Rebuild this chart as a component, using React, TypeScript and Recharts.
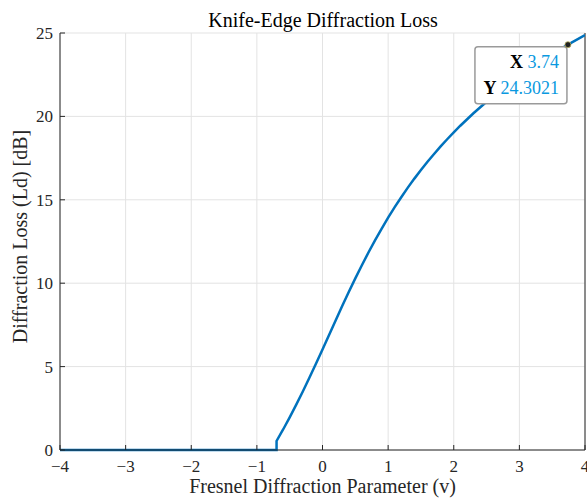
import React from 'react';
import {
  LineChart, Line, XAxis, YAxis, CartesianGrid, ReferenceDot, ReferenceLine,
} from 'recharts';

// Fresnel diffraction parameter v and loss
const vParam = [
  -4, -0.7, -0.7, -0.6, -0.5, -0.4, -0.3, -0.2, -0.1, 0, 0.1, 0.2, 0.3, 0.4, 0.5,
  0.6, 0.7, 0.8, 0.9, 1.0, 1.1, 1.2, 1.3, 1.4, 1.5, 1.6, 1.7, 1.8, 1.9, 2.0, 2.1,
  2.3, 2.5, 2.7, 2.9, 3.1, 3.3, 3.5, 3.74, 4.0,
];
const lossDb = [
  0, 0, 0.54, 1.23, 1.96, 2.72, 3.51, 4.33, 5.17, 6.03, 6.9, 7.77, 8.63, 9.47, 10.29,
  11.08, 11.84, 12.57, 13.26, 13.93, 14.56, 15.15, 15.73, 16.27, 16.78, 17.28, 17.75, 18.2, 18.63, 19.04, 19.44,
  20.19, 20.88, 21.52, 22.13, 22.69, 23.23, 23.73, 24.3, 24.88,
];
const xTicks = [-4, -3, -2, -1, 0, 1, 2, 3, 4];
const yTicks = [0, 5, 10, 15, 20, 25];
const tipX = 3.74;
const tipY = 24.3021;

const data = vParam.map((v, i) => ({ v, loss: lossDb[i] }));

const FONT = "'Liberation Serif', 'Times New Roman', serif";
const AXIS = '#262626';
const fmt = (n: number) => (n < 0 ? `\u2212${Math.abs(n)}` : `${n}`);

function BottomTick({ x, y, payload }: any) {
  return (
    <g>
      <line x1={x} x2={x} y1={y} y2={y - 5} stroke={AXIS} />
      <text x={x} y={y + 22} textAnchor="middle" style={{ fontFamily: FONT, fontSize: 17 }} fill={AXIS}>
        {fmt(payload.value)}
      </text>
    </g>
  );
}

function TopTick({ x, y }: any) {
  return <line x1={x} x2={x} y1={y} y2={y + 5} stroke={AXIS} />;
}

function LeftTick({ x, y, payload }: any) {
  return (
    <g>
      <line x1={x} x2={x + 5} y1={y} y2={y} stroke={AXIS} />
      <text x={x - 7} y={y} dy="0.35em" textAnchor="end" style={{ fontFamily: FONT, fontSize: 17 }} fill={AXIS}>
        {fmt(payload.value)}
      </text>
    </g>
  );
}

function DataTip({ cx, cy }: any) {
  return (
    <g>
      <rect x={cx - 93} y={cy + 2} width={92} height={57} rx={3} fill="#fff" stroke="#9a9a9a" strokeWidth={1.5} />
      <text x={cx - 9} y={cy + 23} textAnchor="end" style={{ fontFamily: FONT, fontSize: 18 }}>
        <tspan fill="#000" fontWeight="bold">X </tspan>
        <tspan fill="#0a99e0">{tipX}</tspan>
      </text>
      <text x={cx - 9} y={cy + 49} textAnchor="end" style={{ fontFamily: FONT, fontSize: 18 }}>
        <tspan fill="#000" fontWeight="bold">Y </tspan>
        <tspan fill="#0a99e0">{tipY}</tspan>
      </text>
      <circle cx={cx} cy={cy} r={3} fill="#222" stroke="#b8b060" strokeWidth={0.8} />
    </g>
  );
}

export default function App() {
  return (
    <div style={{ position: 'absolute', left: 0, top: 0, width: 587, height: 501, overflow: 'hidden', background: '#fff' }}>
      <LineChart width={587} height={501} data={data} margin={{ top: 33, right: 2, bottom: 0, left: 0 }}>
        <CartesianGrid stroke="#e3e3e3" strokeWidth={1} />
        <XAxis
          dataKey="v" type="number" domain={[-4, 4]} ticks={xTicks} height={51}
          tickSize={0} tickMargin={0} tickLine={false} stroke={AXIS} tick={<BottomTick />}
          interval={0} allowDataOverflow
          label={{
            content: ({ viewBox }: any) => (
              <text x={viewBox.x + viewBox.width / 2} y={viewBox.y + 43} textAnchor="middle"
                style={{ fontFamily: FONT, fontSize: 20 }} fill={AXIS}>
                Fresnel Diffraction Parameter (v)
              </text>
            ),
          }}
        />
        <XAxis
          xAxisId="top" orientation="top" dataKey="v" type="number" domain={[-4, 4]} ticks={xTicks}
          height={0} tickSize={0} tickLine={false} stroke={AXIS} tick={<TopTick />} interval={0}
        />
        <YAxis
          type="number" domain={[0, 25]} ticks={yTicks} width={60}
          tickSize={0} tickMargin={0} tickLine={false} stroke={AXIS} tick={<LeftTick />} interval={0}
          label={{
            content: ({ viewBox }: any) => {
              const cx = 27;
              const cy = viewBox.y + viewBox.height / 2 - 5;
              return (
                <g>
                  <text x={323} y={viewBox.y - 6} textAnchor="middle"
                    style={{ fontFamily: FONT, fontSize: 20 }} fill="#000">
                    Knife-Edge Diffraction Loss
                  </text>
                  <text x={cx} y={cy} transform={`rotate(-90 ${cx} ${cy})`} textAnchor="middle"
                    style={{ fontFamily: FONT, fontSize: 20 }} fill={AXIS}>
                    Diffraction Loss (Ld) [dB]
                  </text>
                </g>
              );
            },
          }}
        />
        <ReferenceLine x={4} stroke={AXIS} ifOverflow="extendDomain" />
        <Line
          type="linear" dataKey="loss" stroke="#0072BD" strokeWidth={2.5}
          dot={false} activeDot={false} isAnimationActive={false}
        />
        <ReferenceDot x={tipX} y={tipY} shape={<DataTip />} ifOverflow="visible" />
      </LineChart>
    </div>
  );
}
